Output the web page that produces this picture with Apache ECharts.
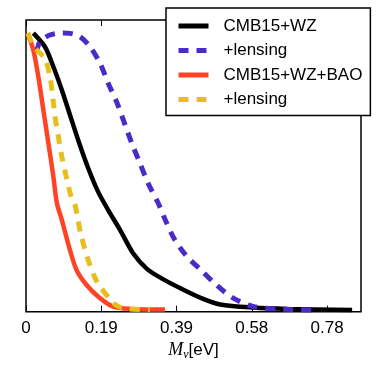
<!DOCTYPE html>
<html>
<head>
<meta charset="utf-8">
<script src="https://cdn.jsdelivr.net/npm/echarts@6/dist/echarts.min.js"></script>
<style>html,body{margin:0;padding:0;background:#fff;}#c{width:382px;height:382px;}</style>
</head>
<body>
<div id="c"></div>
<script>
// Tick labels on the M_nu axis (ticks every 0.195 eV)
var tickLabels = ['0', '0.19', '0.39', '0.58', '0.78'];

// CMB15+WZ (black, solid)
var cmbMass    = [0.019, 0.049, 0.071, 0.093, 0.114, 0.136, 0.161, 0.187, 0.213, 0.244, 0.277, 0.314, 0.355, 0.399, 0.459, 0.503, 0.588, 0.677, 0.845];
var cmbDensity = [1.000, 0.951, 0.879, 0.795, 0.706, 0.613, 0.516, 0.430, 0.365, 0.293, 0.211, 0.153, 0.117, 0.085, 0.046, 0.026, 0.015, 0.010, 0.006];

// CMB15+WZ +lensing (purple, dashed)
var cmbLensMass    = [0.028, 0.036, 0.062, 0.093, 0.114, 0.140, 0.166, 0.192, 0.213, 0.236, 0.274, 0.295, 0.316, 0.342, 0.363, 0.384, 0.415, 0.451, 0.494, 0.537, 0.588, 0.650, 0.753];
var cmbLensDensity = [0.932, 0.968, 0.993, 1.000, 0.999, 0.987, 0.951, 0.891, 0.820, 0.749, 0.605, 0.534, 0.462, 0.391, 0.323, 0.262, 0.201, 0.153, 0.095, 0.049, 0.019, 0.010, 0.006];

// CMB15+WZ+BAO (red, solid)
var baoMass    = [0.004, 0.019, 0.032, 0.045, 0.058, 0.071, 0.080, 0.093, 0.114, 0.131, 0.157, 0.192, 0.226, 0.270, 0.360];
var baoDensity = [1.000, 0.939, 0.843, 0.724, 0.605, 0.484, 0.390, 0.329, 0.221, 0.150, 0.096, 0.048, 0.018, 0.010, 0.008];

// CMB15+WZ+BAO +lensing (yellow, dashed)
var baoLensMass    = [0.005, 0.018, 0.036, 0.049, 0.062, 0.071, 0.075, 0.084, 0.093, 0.105, 0.118, 0.127, 0.142, 0.163, 0.183, 0.214, 0.233, 0.261, 0.321];
var baoLensDensity = [1.000, 0.957, 0.928, 0.910, 0.846, 0.752, 0.702, 0.627, 0.555, 0.480, 0.408, 0.383, 0.279, 0.178, 0.110, 0.051, 0.024, 0.010, 0.008];

var seriesIds    = ['cmb', 'cmbLens', 'bao', 'baoLens'];
var legendLabels = ['CMB15+WZ', '+lensing', 'CMB15+WZ+BAO', '+lensing'];

function pairs(xs, ys) { return xs.map(function (x, i) { return [x, ys[i]]; }); }

var chart = echarts.init(document.getElementById('c'), null, {renderer: 'canvas'});
var tickStep = 0.195;
var axisCommon = {
  type: 'value', min: 0, max: 0.868, interval: tickStep,
  splitLine: {show: false}
};
function mkSeries(id, xs, ys, color, dashed) {
  return {
    id: id, name: id, type: 'line', data: pairs(xs, ys),
    showSymbol: false, symbol: 'none', smooth: 0.3,
    lineStyle: {color: color, width: dashed ? 5 : 4.5, type: dashed ? [10, 8] : 'solid', cap: 'butt'},
    itemStyle: {color: color},
    emphasis: {disabled: true}, silent: true, animation: false
  };
}
chart.setOption({
  animation: false,
  backgroundColor: '#fff',
  grid: {left: 26, right: 21, top: 20, bottom: 70.3, show: true, borderColor: '#000', borderWidth: 1.5, backgroundColor: 'transparent'},
  xAxis: [
    Object.assign({}, axisCommon, {
      position: 'bottom',
      axisLine: {show: false},
      axisTick: {show: true, inside: true, length: 6, lineStyle: {color: '#000', width: 1}},
      axisLabel: {
        show: true, margin: 8, color: '#000', fontSize: 17, fontFamily: 'Liberation Sans',
        showMaxLabel: false,
        formatter: function (v) { var i = Math.round(v / tickStep); return tickLabels[i] !== undefined ? tickLabels[i] : ''; }
      },
      name: '{m|M}{s|ν}{t|[eV]}',
      nameLocation: 'middle', nameGap: 27,
      nameTextStyle: {
        rich: {
          m: {fontFamily: 'Liberation Serif', fontStyle: 'italic', fontSize: 18, color: '#000'},
          s: {fontFamily: 'Liberation Serif', fontStyle: 'italic', fontSize: 12, color: '#000', padding: [8, 0, 0, 0]},
          t: {fontFamily: 'Liberation Sans', fontSize: 17, color: '#000'}
        }
      }
    }),
    Object.assign({}, axisCommon, {
      position: 'top',
      axisLine: {show: false},
      axisTick: {show: true, inside: true, length: 6, lineStyle: {color: '#000', width: 1}},
      axisLabel: {show: false}
    })
  ],
  yAxis: {
    type: 'value', min: 0, max: 1.047,
    axisLine: {show: false}, axisTick: {show: false}, axisLabel: {show: false}, splitLine: {show: false}
  },
  legend: {
    show: true, orient: 'vertical', left: 166, top: 8,
    itemWidth: 30, itemHeight: 14, itemGap: 7.5,
    padding: [9.5, 8, 7.5, 10],
    borderColor: '#000', borderWidth: 1.5, borderRadius: 0, backgroundColor: '#fff',
    selectedMode: false,
    data: seriesIds,
    itemStyle: {opacity: 0},
    lineStyle: {width: 5},
    textStyle: {fontSize: 17, fontFamily: 'Liberation Sans', color: '#000', padding: [0, 0, 0, 10]},
    formatter: function (name) { return legendLabels[seriesIds.indexOf(name)]; }
  },
  series: [
    mkSeries('cmb', cmbMass, cmbDensity, '#000000', false),
    mkSeries('cmbLens', cmbLensMass, cmbLensDensity, '#4b2bc8', true),
    mkSeries('bao', baoMass, baoDensity, '#ff4325', false),
    mkSeries('baoLens', baoLensMass, baoLensDensity, '#e6be1e', true)
  ]
});
</script>
</body>
</html>
